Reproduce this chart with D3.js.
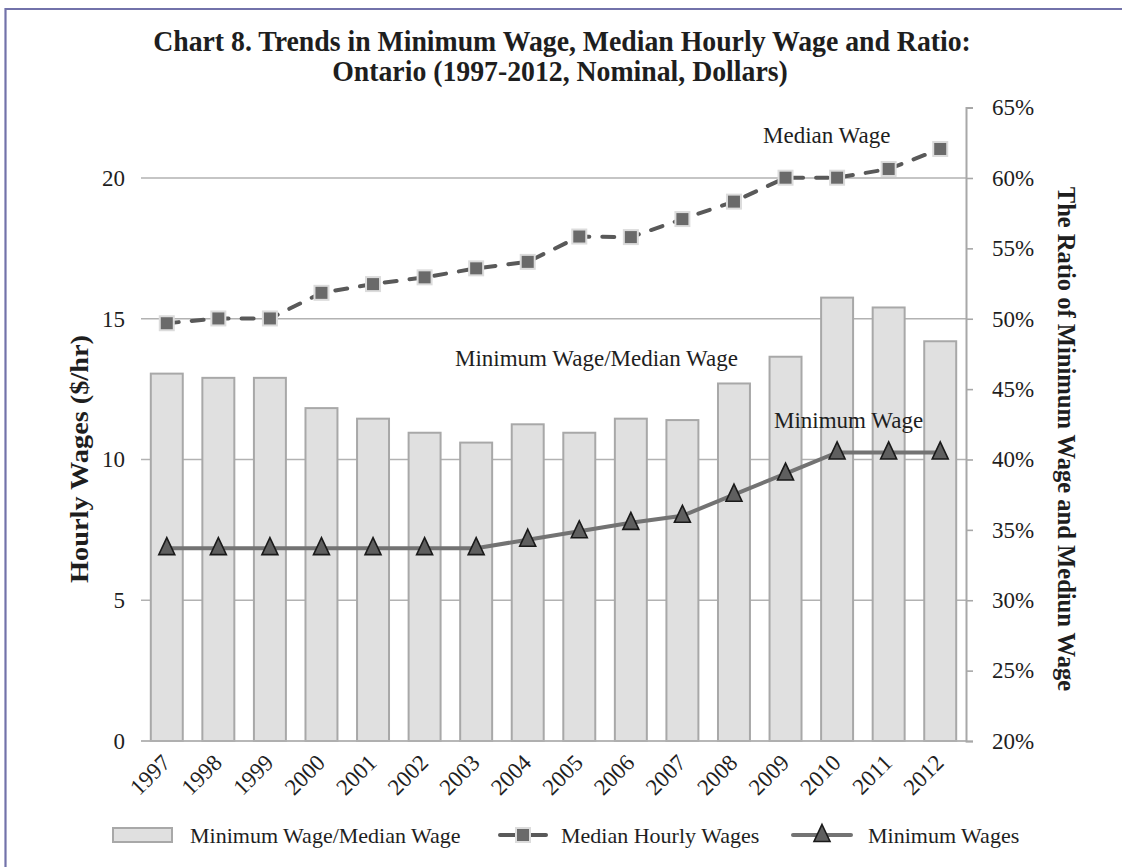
<!DOCTYPE html>
<html><head><meta charset="utf-8">
<script src="https://cdn.jsdelivr.net/npm/d3@7"></script>
<style>body{margin:0;background:#fff} svg{display:block}</style>
</head><body>
<svg id="chart" width="1122" height="867"></svg>
<script>
const years = ["1997","1998","1999","2000","2001","2002","2003","2004","2005","2006","2007","2008","2009","2010","2011","2012"];
const medianWage = [14.84,15.01,15.01,15.92,16.23,16.47,16.79,17.02,17.92,17.90,18.54,19.16,20.01,20.01,20.32,21.03];
const minimumWage = [6.85,6.85,6.85,6.85,6.85,6.85,6.85,7.15,7.45,7.75,8.00,8.75,9.50,10.25,10.25,10.25];
const ratio = [0.461,0.458,0.458,0.4365,0.429,0.419,0.412,0.425,0.419,0.429,0.428,0.454,0.473,0.515,0.508,0.484];
const leftTicks = [0,5,10,15,20];
const rightTicks = [0.20,0.25,0.30,0.35,0.40,0.45,0.50,0.55,0.60,0.65];
const titleLines = ["Chart 8. Trends in Minimum Wage, Median Hourly Wage and Ratio:","Ontario (1997-2012, Nominal, Dollars)"];
const leftTitle = "Hourly Wages ($/hr)";
const rightTitle = "The Ratio of Minimum Wage and Mediun Wage";
const legendLabels = ["Minimum Wage/Median Wage","Median Hourly Wages","Minimum Wages"];

const FONT = "'Liberation Serif', 'Times New Roman', serif";
const TXT = "#1e1e1e";
const svg = d3.select("#chart");

// frame
svg.append("line").attr("x1",5.5).attr("x2",1122).attr("y1",9).attr("y2",9).attr("stroke","#7272aa").attr("stroke-width",2.2);
svg.append("line").attr("x1",5.5).attr("x2",5.5).attr("y1",8).attr("y2",867).attr("stroke","#7272aa").attr("stroke-width",2.2);

const X0 = 141, X1 = 966, YB = 741, YT = 107.6;
const x = d3.scaleBand().domain(years).range([X0, X1]).paddingInner(0.38).paddingOuter(0.19);
const yL = d3.scaleLinear().domain([0, 22.5]).range([YB, YT]);
const yR = d3.scaleLinear().domain([0.20, 0.65]).range([YB, YT]);
const cx = d => x(d) + x.bandwidth()/2;

// condensed text: scale horizontally (in text direction) to reach target width
function condensed(parentTransform, txt, size, targetW, weight){
  const g = svg.append("g").attr("transform", parentTransform);
  const t = g.append("text").attr("text-anchor","middle").attr("font-family",FONT)
    .attr("font-weight",weight).attr("font-size",size).attr("fill",TXT).text(txt);
  const w = t.node().getComputedTextLength();
  t.attr("transform", `scale(${targetW/w},1)`);
  return {t, k: targetW/w};
}

// gridlines
svg.append("g").selectAll("line").data(leftTicks).join("line")
  .attr("x1", X0).attr("x2", X1).attr("y1", d=>yL(d)).attr("y2", d=>yL(d))
  .attr("stroke","#b2b2b2").attr("stroke-width",1.6);

// bars
svg.append("g").selectAll("rect").data(years).join("rect")
  .attr("x", d=>x(d)).attr("width", x.bandwidth())
  .attr("y", (d,i)=>yR(ratio[i])).attr("height", (d,i)=>YB - yR(ratio[i]))
  .attr("fill","#e0e0e0").attr("stroke","#a8a8a8").attr("stroke-width",2);

svg.append("line").attr("x1",X0).attr("x2",X1).attr("y1",YB).attr("y2",YB).attr("stroke","#b2b2b2").attr("stroke-width",1.6);

// right axis
const ra = svg.append("g").attr("transform",`translate(${X1},0)`)
  .call(d3.axisRight(yR).tickValues(rightTicks).tickSize(7).tickPadding(19).tickFormat(d3.format(".0%")));
ra.select(".domain").attr("stroke","#a8a8a8").attr("stroke-width",2);
ra.selectAll(".tick line").attr("stroke","#a8a8a8").attr("stroke-width",1.6);
ra.selectAll(".tick text").attr("font-family",FONT).attr("font-size",23).attr("fill",TXT);

// left axis
const la = svg.append("g").attr("transform",`translate(${X0},0)`)
  .call(d3.axisLeft(yL).tickValues(leftTicks).tickSize(0).tickPadding(16));
la.select(".domain").remove();
la.selectAll(".tick text").attr("font-family",FONT).attr("font-size",23).attr("fill",TXT);

// x labels
svg.append("g").selectAll("text").data(years).join("text")
  .attr("transform", d=>`translate(${cx(d)+5},${YB+23}) rotate(-45)`)
  .attr("text-anchor","end").attr("font-family",FONT).attr("font-size",23).attr("fill",TXT).text(d=>d);

// median line
const lineMed = d3.line().x((d,i)=>cx(years[i])).y(d=>yL(d));
svg.append("path").attr("d", lineMed(medianWage)).attr("fill","none")
  .attr("stroke","#595959").attr("stroke-width",4).attr("stroke-dasharray","12,13").attr("stroke-linecap","round");
svg.append("g").selectAll("rect").data(medianWage).join("rect")
  .attr("x",(d,i)=>cx(years[i])-7).attr("y",d=>yL(d)-7).attr("width",14).attr("height",14)
  .attr("fill","#6a6a6a").attr("stroke","#dcdcdc").attr("stroke-width",2);

// minimum line
const lineMin = d3.line().x((d,i)=>cx(years[i])).y(d=>yL(d));
svg.append("path").attr("d", lineMin(minimumWage)).attr("fill","none")
  .attr("stroke","#737373").attr("stroke-width",4);
const tri = "M0,-10.5L8,6.5L-8,6.5Z";
svg.append("g").selectAll("path").data(minimumWage).join("path")
  .attr("d",tri).attr("transform",(d,i)=>`translate(${cx(years[i])},${yL(d)})`)
  .attr("fill","#5f5f5f").attr("stroke","#1a1a1a").attr("stroke-width",1.6);

// annotations
function ann(t, xx, yy){
  svg.append("text").attr("x",xx).attr("y",yy).attr("dy","0.35em").attr("font-family",FONT)
    .attr("font-size",23).attr("fill",TXT).text(t);
}
ann("Median Wage", 763, 135);
ann("Minimum Wage/Median Wage", 455, 358);
ann("Minimum Wage", 774, 420);

// title (condensed bold)
const T = condensed("translate(562,51)", titleLines[0], 30, 818, "bold");
const g2 = svg.append("g").attr("transform","translate(560,81)");
g2.append("text").attr("text-anchor","middle").attr("font-family",FONT).attr("font-weight","bold")
  .attr("font-size",30).attr("fill",TXT).attr("transform",`scale(${T.k},1)`).text(titleLines[1]);

// axis titles (condensed bold)
condensed("translate(88,459) rotate(-90)", leftTitle, 25, 248, "bold");
condensed("translate(1058,439) rotate(90)", rightTitle, 25, 505, "bold");

// legend
const LY = 835;
const lg = svg.append("g");
lg.append("rect").attr("x",113).attr("y",LY-7).attr("width",59).attr("height",14)
  .attr("fill","#e0e0e0").attr("stroke","#a8a8a8").attr("stroke-width",2);
lg.append("text").attr("x",190).attr("y",LY).attr("dy","0.35em").attr("font-family",FONT).attr("font-size",22).attr("fill",TXT).text(legendLabels[0]);
lg.append("line").attr("x1",500).attr("x2",515).attr("y1",LY).attr("y2",LY).attr("stroke","#595959").attr("stroke-width",4).attr("stroke-linecap","round");
lg.append("line").attr("x1",531).attr("x2",546).attr("y1",LY).attr("y2",LY).attr("stroke","#595959").attr("stroke-width",4).attr("stroke-linecap","round");
lg.append("rect").attr("x",516).attr("y",LY-7).attr("width",14).attr("height",14).attr("fill","#6a6a6a").attr("stroke","#dcdcdc").attr("stroke-width",2);
lg.append("text").attr("x",561).attr("y",LY).attr("dy","0.35em").attr("font-family",FONT).attr("font-size",22).attr("fill",TXT).text(legendLabels[1]);
lg.append("line").attr("x1",793).attr("x2",851).attr("y1",LY).attr("y2",LY).attr("stroke","#737373").attr("stroke-width",4).attr("stroke-linecap","round");
lg.append("path").attr("d",tri).attr("transform",`translate(822,${LY})`).attr("fill","#5f5f5f").attr("stroke","#1a1a1a").attr("stroke-width",1.6);
lg.append("text").attr("x",868).attr("y",LY).attr("dy","0.35em").attr("font-family",FONT).attr("font-size",22).attr("fill",TXT).text(legendLabels[2]);
</script>
</body></html>
